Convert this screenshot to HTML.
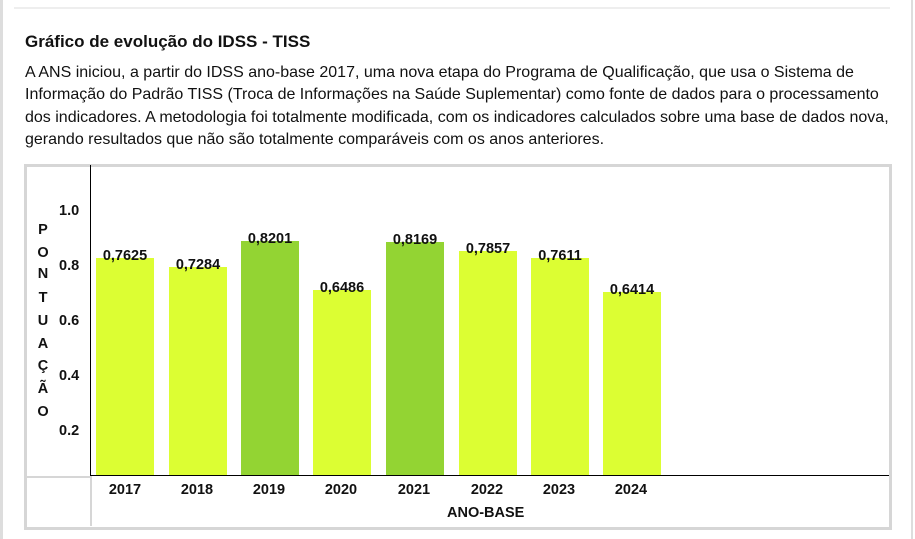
<!DOCTYPE html>
<html><head><meta charset="utf-8"><style>
body{margin:0;width:915px;height:539px;background:#fff;font-family:"Liberation Sans",Arial,sans-serif;position:relative;overflow:hidden;color:#111}
.a{position:absolute}
.bar{position:absolute;bottom:64px;width:58px;background:#dcfe33}
.g{background:#93d433}
.v{position:absolute;font-weight:bold;font-size:14.5px;width:80px;text-align:center}
.y{position:absolute;font-weight:bold;font-size:14.5px;width:80px;text-align:center;top:482px}
.t{position:absolute;left:59px;font-weight:bold;font-size:14.5px}
.l{position:absolute;left:36px;width:14px;text-align:center;font-weight:bold;font-size:14.5px}
.p{position:absolute;left:25px;font-size:16px;white-space:nowrap}
</style></head><body>
<div class="a" style="left:0;top:0;width:3px;height:539px;background:#ddd"></div>
<div class="a" style="right:2px;top:0;width:2px;height:539px;background:#ddd"></div>
<div class="a" style="left:14px;top:7px;width:876px;height:2px;background:#eee"></div>
<div class="a" style="left:25px;top:32px;font-weight:bold;font-size:17px">Gráfico de evolução do IDSS - TISS</div>
<div class="p" style="top:64px">A ANS iniciou, a partir do IDSS ano-base 2017, uma nova etapa do Programa de Qualificação, que usa o Sistema de</div>
<div class="p" style="top:86px">Informação do Padrão TISS (Troca de Informações na Saúde Suplementar) como fonte de dados para o processamento</div>
<div class="p" style="top:109px">dos indicadores. A metodologia foi totalmente modificada, com os indicadores calculados sobre uma base de dados nova,</div>
<div class="p" style="top:131px">gerando resultados que não são totalmente comparáveis com os anos anteriores.</div>
<div class="a" style="left:24px;top:164px;width:862px;height:360px;border:3px solid #d6d6d6"></div>
<div class="a" style="left:90px;top:165px;width:1px;height:311px;background:#000"></div>
<div class="a" style="left:90px;top:475px;width:799px;height:1px;background:#000"></div>
<div class="a" style="left:27px;top:476px;width:63px;height:2px;background:#d6d6d6"></div>
<div class="a" style="left:90px;top:476px;width:2px;height:50px;background:#d6d6d6"></div>
<div class="l" style="top:222px">P</div><div class="l" style="top:245px">O</div><div class="l" style="top:266px">N</div><div class="l" style="top:290px">T</div><div class="l" style="top:313px">U</div><div class="l" style="top:336px">A</div><div class="l" style="top:358px">Ç</div><div class="l" style="top:381px">Ã</div><div class="l" style="top:404px">O</div>
<div class="t" style="top:203px">1.0</div><div class="t" style="top:258px">0.8</div><div class="t" style="top:313px">0.6</div><div class="t" style="top:368px">0.4</div><div class="t" style="top:423px">0.2</div>
<div class="bar" style="left:96px;height:217px"></div>
<div class="bar" style="left:169px;height:208px"></div>
<div class="bar g" style="left:241px;height:234px"></div>
<div class="bar" style="left:313px;height:185px"></div>
<div class="bar g" style="left:386px;height:233px"></div>
<div class="bar" style="left:459px;height:224px"></div>
<div class="bar" style="left:531px;height:217px"></div>
<div class="bar" style="left:603px;height:183px"></div>
<div class="v" style="left:85px;top:248px">0,7625</div>
<div class="v" style="left:158px;top:257px">0,7284</div>
<div class="v" style="left:230px;top:231px">0,8201</div>
<div class="v" style="left:302px;top:280px">0,6486</div>
<div class="v" style="left:375px;top:232px">0,8169</div>
<div class="v" style="left:448px;top:241px">0,7857</div>
<div class="v" style="left:520px;top:248px">0,7611</div>
<div class="v" style="left:592px;top:282px">0,6414</div>
<div class="y" style="left:85px">2017</div><div class="y" style="left:157px">2018</div><div class="y" style="left:229px">2019</div><div class="y" style="left:301px">2020</div><div class="y" style="left:374px">2021</div><div class="y" style="left:447px">2022</div><div class="y" style="left:519px">2023</div><div class="y" style="left:591px">2024</div>
<div class="a" style="left:447px;top:505px;font-weight:bold;font-size:14.5px">ANO-BASE</div>
</body></html>
